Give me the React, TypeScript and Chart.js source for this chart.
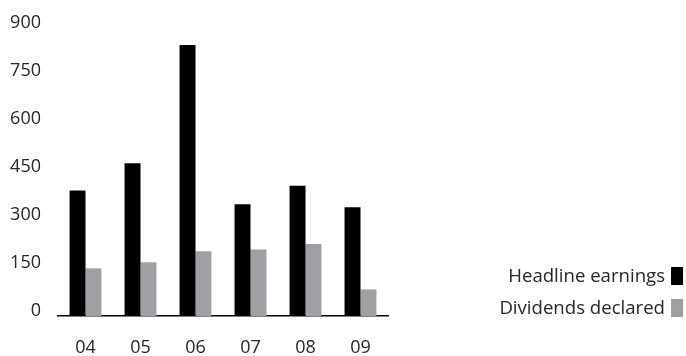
import { useEffect, useRef } from "react";
import { Chart, registerables } from "chart.js";

Chart.register(...registerables);

const years = ["04", "05", "06", "07", "08", "09"];
const headlineEarnings = [392, 477, 847, 349, 407, 340];
const dividendsDeclared = [149, 168, 202, 208, 225, 83];
const yTickValues = [0, 150, 300, 450, 600, 750, 900];
const seriesNames = ["Headline earnings", "Dividends declared"];
const seriesColors = ["#000000", "#9fa0a4"];

const FONT_FAMILY = "'Open Sans', Lato, sans-serif";
const FONT_SIZE = 18;
const LEGEND_FONT_SIZE = 18.6;
const FONT_WEIGHT = "normal";
const TEXT_COLOR = "#262626";

// Legend stacked in the lower right corner: label first, colour swatch after it.
const sideLegend = {
  id: "sideLegend",
  afterDraw(chart: any) {
    const { ctx, chartArea } = chart;
    const datasets = chart.data.datasets;
    const right = chart.width - 3;
    const boxW = 12;
    const boxH = 18;
    const gap = 6;
    const rowGap = 32;
    ctx.save();
    ctx.font = `${FONT_WEIGHT} ${LEGEND_FONT_SIZE}px ${FONT_FAMILY}`;
    ctx.textAlign = "right";
    ctx.textBaseline = "middle";
    datasets.forEach((ds: any, i: number) => {
      const cy = chartArea.bottom - 8 - (datasets.length - 1 - i) * rowGap;
      ctx.fillStyle = ds.backgroundColor;
      ctx.fillRect(right - boxW, cy - boxH / 2, boxW, boxH);
      ctx.fillStyle = TEXT_COLOR;
      ctx.fillText(ds.label, right - boxW - gap, cy + 1);
    });
    ctx.restore();
  },
};

export default function App() {
  const canvasRef = useRef<HTMLCanvasElement | null>(null);

  useEffect(() => {
    if (!canvasRef.current) return;
    const tickFont = { family: FONT_FAMILY, size: FONT_SIZE, weight: FONT_WEIGHT };
    const chart = new Chart(canvasRef.current, {
      type: "bar",
      data: {
        labels: years,
        datasets: [
          {
            label: seriesNames[0],
            data: headlineEarnings,
            backgroundColor: seriesColors[0],
            categoryPercentage: 0.58,
            barPercentage: 1,
          },
          {
            label: seriesNames[1],
            data: dividendsDeclared,
            backgroundColor: seriesColors[1],
            categoryPercentage: 0.58,
            barPercentage: 1,
          },
        ],
      },
      options: {
        animation: false,
        responsive: true,
        maintainAspectRatio: false,
        layout: { padding: { top: 28, right: 298, left: 0, bottom: 0 } },
        plugins: {
          legend: { display: false },
          tooltip: { enabled: false },
        },
        scales: {
          x: {
            grid: { display: false, drawTicks: false },
            border: { display: true, color: "#000000", width: 1.5 },
            ticks: {
              padding: 21,
              color: TEXT_COLOR,
              font: tickFont,
            },
            afterFit: (scale: any) => {
              scale.height = 40;
            },
          },
          y: {
            min: 0,
            max: 900,
            grid: { display: false, drawTicks: false },
            border: { display: false },
            ticks: {
              padding: 17,
              labelOffset: -5,
              color: TEXT_COLOR,
              font: tickFont,
            },
            afterBuildTicks: (scale: any) => {
              scale.ticks = yTickValues.map((v) => ({ value: v }));
            },
            afterFit: (scale: any) => {
              scale.width = 58;
            },
          },
        },
      },
      plugins: [sideLegend],
    });
    return () => chart.destroy();
  }, []);

  return (
    <div style={{ position: "absolute", left: 0, top: 0, width: 686, height: 356 }}>
      <canvas ref={canvasRef} />
    </div>
  );
}
